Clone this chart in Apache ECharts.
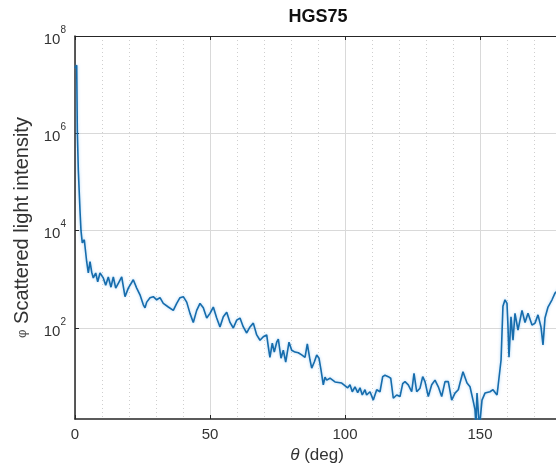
<!DOCTYPE html>
<html>
<head>
<meta charset="utf-8">
<script src="https://cdn.jsdelivr.net/npm/echarts@6/dist/echarts.min.js"></script>
<style>
  html, body { margin: 0; padding: 0; background: #ffffff; }
  #chart { width: 556px; height: 474px; }
</style>
</head>
<body>
<div id="chart"></div>
<script>
// Scattering angle (deg)
const theta = [
  0.0, 0.63, 0.85, 1.22, 1.85, 2.22, 2.70, 3.44, 4.33, 4.93,
  5.56, 6.19, 6.78, 7.67, 8.41, 9.26, 10.48, 11.37, 12.33, 13.33,
  14.19, 15.07, 16.04, 17.30, 18.52, 19.74, 21.59, 22.85, 24.07, 25.30,
  25.93, 26.56, 27.78, 29.00, 30.26, 31.48, 32.70, 34.56, 35.19, 36.41,
  37.67, 38.89, 40.11, 41.37, 42.59, 43.81, 45.07, 46.30, 47.52, 48.78,
  50.00, 51.22, 52.48, 53.70, 54.93, 56.19, 57.41, 58.63, 59.89, 61.11,
  62.33, 63.59, 64.81, 66.04, 67.30, 68.52, 69.74, 71.00, 71.60, 72.20,
  73.07, 73.81, 74.70, 75.30, 76.30, 77.15, 78.04, 79.26, 80.26, 81.48,
  82.70, 83.96, 85.19, 86.04, 87.04, 87.67, 88.63, 89.52, 90.37, 91.11,
  91.96, 92.59, 93.22, 94.44, 96.30, 98.78, 101.00, 101.85, 102.70, 103.70,
  104.70, 105.56, 106.40, 107.40, 108.00, 109.26, 110.48, 111.74, 112.96, 113.96,
  114.81, 116.04, 116.93, 117.89, 119.15, 120.37, 121.37, 122.22, 123.44, 124.70,
  125.56, 126.56, 127.78, 128.78, 129.63, 130.85, 132.11, 133.33, 134.56, 135.81,
  137.04, 138.26, 139.52, 140.74, 141.96, 142.59, 143.70, 145.19, 146.30, 147.41,
  148.15, 148.50, 148.89, 149.40, 149.80, 150.74, 151.85, 153.70, 154.81, 156.30,
  156.67, 157.80, 158.50, 159.26, 160.00, 160.37, 160.74, 161.48, 162.22, 162.96,
  164.07, 165.56, 166.67, 167.78, 169.26, 170.37, 171.48, 172.59, 173.33, 174.07,
  175.19, 176.67, 177.78, 178.90, 180.00
];

// Scattered light intensity (phi-integrated)
const intensity = [
  2.2e7, 2.5e7, 1.2e6, 1.8e5, 2.6e4, 1.0e4, 5600, 6500, 2300, 1350,
  2300, 1400, 1070, 1350, 890, 1350, 1070, 760, 1120, 690,
  1120, 660, 830, 1120, 440, 660, 980, 660, 480, 300,
  260, 340, 420, 440, 380, 420, 320, 270, 260, 230,
  320, 420, 440, 340, 200, 130, 230, 320, 260, 160,
  200, 270, 160, 105, 170, 210, 130, 100, 145, 160,
  105, 79, 105, 126, 72, 56, 66, 72, 41, 25,
  49, 32, 51, 59, 24, 35, 20, 51, 35, 32,
  31, 28, 25, 47, 22, 15, 20, 28, 24, 13.8,
  6.8, 9.8, 8.5, 9.3, 7.8, 7.4, 5.9, 6.8, 4.9, 6.2,
  4.7, 5.9, 4.2, 5.4, 4.2, 4.9, 3.3, 5.4, 4.9, 10,
  10.7, 10, 9.3, 3.6, 4.2, 3.9, 7.2, 7.9, 6.8, 4.9,
  11.7, 4.9, 5.8, 10, 7.9, 3.9, 6.8, 8.5, 6.2, 3.9,
  7.9, 7.9, 3.3, 4.6, 5.4, 7.4, 12.6, 7.4, 6.2, 3.3,
  2.1, 1.02, 4.6, 1.8, 0.9, 3.3, 4.6, 4.9, 5.4, 4.2,
  6.2, 22, 280, 380, 320, 105, 25, 170, 56, 200,
  91, 230, 130, 200, 115, 126, 186, 105, 45, 160,
  270, 380, 520, 600, 550
];

const yTickValues = [1e2, 1e4, 1e6, 1e8];

const AX = '#262626';
const GRID = '#d9d9d9';
const FONT = '"Liberation Sans", Arial, Helvetica, sans-serif';

const chart = echarts.init(document.getElementById('chart'), null, { renderer: 'canvas' });

const points = theta.map((t, i) => [t, intensity[i]]);

chart.setOption({
  animation: false,
  backgroundColor: '#ffffff',
  title: {
    text: 'HGS75',
    left: 318,
    top: 8,
    padding: 0,
    textAlign: 'center',
    textStyle: { fontFamily: FONT, fontSize: 18, fontWeight: 'bold', color: '#111111' }
  },
  // the axes box runs to 200 deg; the visible window ends near 180 deg
  grid: { left: 75, top: 36, right: -59, bottom: 55, containLabel: false, outerBoundsMode: 'none' },
  xAxis: [
    {
      type: 'value',
      position: 'bottom',
      min: 0,
      max: 200,
      interval: 50,
      name: '{t|θ} (deg)',
      nameLocation: 'middle',
      nameGap: 18,
      nameTextStyle: {
        fontFamily: FONT, fontSize: 17, color: '#333333',
        padding: [0, 56, 0, 0],
        rich: { t: { fontFamily: FONT, fontSize: 17, fontStyle: 'italic', color: '#333333' } }
      },
      axisLine: { show: true, onZero: false, lineStyle: { color: AX, width: 1.5 } },
      axisTick: { show: true, inside: true, length: 4, lineStyle: { color: AX } },
      axisLabel: { show: true, margin: 8, fontFamily: FONT, fontSize: 15, color: '#333333' },
      splitLine: { show: true, lineStyle: { color: GRID, width: 1, type: 'solid' } },
      minorTick: { show: false, splitNumber: 5 },
      minorSplitLine: { show: true, lineStyle: { color: '#cfcfcf', width: 1, type: [1, 3] } }
    },
    {
      type: 'value',
      position: 'top',
      min: 0,
      max: 200,
      interval: 50,
      axisLine: { show: true, onZero: false, lineStyle: { color: AX, width: 1.2 } },
      axisTick: { show: true, inside: true, length: 4, lineStyle: { color: AX } },
      axisLabel: { show: false },
      splitLine: { show: false }
    }
  ],
  yAxis: {
    type: 'log',
    logBase: 10,
    min: 1.35,
    max: 1e8,
    name: '{p|φ} Scattered light intensity',
    nameLocation: 'middle',
    nameGap: 43,
    nameTextStyle: {
      fontFamily: FONT, fontSize: 20, color: '#333333',
      rich: { p: { fontFamily: FONT, fontSize: 13, color: '#555555' } }
    },
    axisLine: { show: true, onZero: false, lineStyle: { color: AX, width: 1.5 } },
    axisTick: { show: true, inside: true, length: 4, lineStyle: { color: AX }, customValues: yTickValues },
    axisLabel: {
      show: true,
      margin: 9,
      customValues: yTickValues,
      formatter: function (v) {
        const e = Math.round(Math.log10(v));
        return '{b|10}{s|' + e + '}';
      },
      rich: {
        b: { fontFamily: FONT, fontSize: 15, color: '#333333', padding: [7, 0, 0, 0] },
        s: { fontFamily: FONT, fontSize: 10, color: '#333333', verticalAlign: 'top' }
      }
    },
    splitLine: { show: true, lineStyle: { color: GRID, width: 1 } },
    minorSplitLine: { show: false }
  },
  series: [{
    type: 'line',
    xAxisIndex: 0,
    data: points,
    showSymbol: false,
    symbol: 'none',
    clip: true,
    lineStyle: { color: '#166cac', width: 1.6, shadowColor: 'rgba(90,170,235,0.55)', shadowBlur: 3 },
    emphasis: { disabled: true }
  }]
});
</script>
</body>
</html>
